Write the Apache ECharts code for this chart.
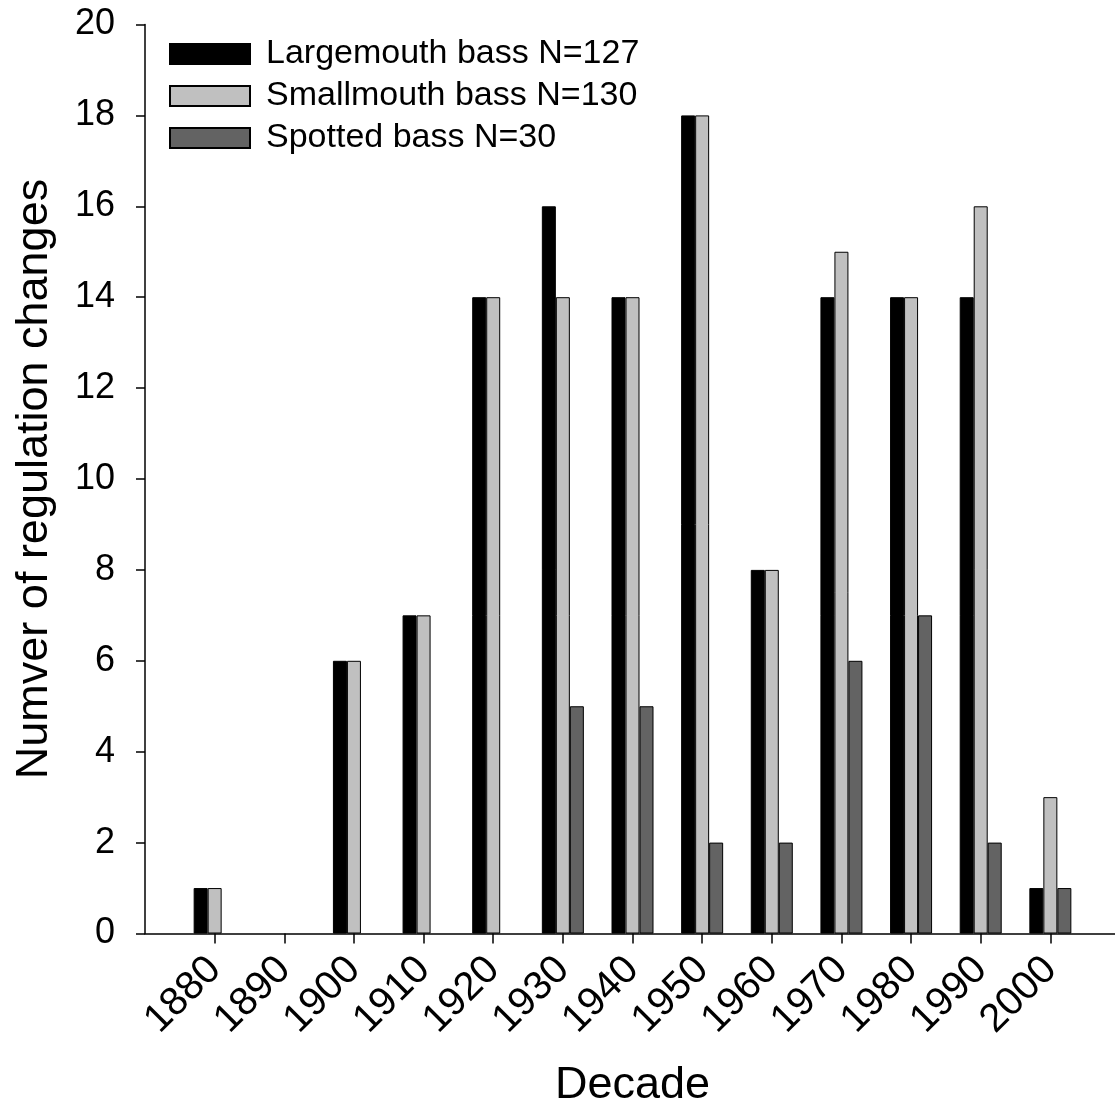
<!DOCTYPE html>
<html>
<head>
<meta charset="utf-8">
<script src="https://cdn.jsdelivr.net/npm/echarts@6/dist/echarts.min.js"></script>
<style>
  html, body { margin: 0; padding: 0; background: #fff; }
  #chart { width: 1115px; height: 1108px; }
</style>
</head>
<body>
<div id="chart"></div>
<script>
// decades on the x axis
const decades = ['1880', '1890', '1900', '1910', '1920', '1930', '1940', '1950', '1960', '1970', '1980', '1990', '2000'];
// number of regulation changes per decade
const largemouth = [1, 0, 6, 7, 14, 16, 14, 18, 8, 14, 14, 14, 1];
const smallmouth = [1, 0, 6, 7, 14, 14, 14, 18, 8, 15, 14, 16, 3];
const spotted = [0, 0, 0, 0, 0, 5, 5, 2, 2, 6, 7, 2, 1];
const seriesNames = ['Largemouth bass N=127', 'Smallmouth bass N=130', 'Spotted bass N=30'];
const colors = ['#000000', '#c0c0c0', '#636363'];
const yTicks = [0, 2, 4, 6, 8, 10, 12, 14, 16, 18, 20];

// the axis runs half a decade past the first and last group, pad with empty slots
const cats = [''].concat(decades, ['']);
function pad(arr) {
  return [null].concat(arr.map(v => (v === 0 ? null : v)), [null]);
}

const font = 'Liberation Sans, Arial, sans-serif';
const chart = echarts.init(document.getElementById('chart'), null, { renderer: 'canvas' });

const values = [largemouth, smallmouth, spotted];
const series = values.map((v, i) => ({
  name: seriesNames[i],
  type: 'bar',
  data: pad(v),
  barWidth: 14,
  barGap: '0%',
  itemStyle: { color: colors[i], borderColor: '#000', borderWidth: 1 },
  emphasis: { disabled: true }
}));

chart.setOption({
  animation: false,
  backgroundColor: '#fff',
  textStyle: { fontFamily: font },
  grid: { left: 145, top: 24.5, width: 975, height: 909, containLabel: false, outerBoundsMode: 'none' },
  legend: {
    orient: 'vertical',
    left: 164,
    top: 32,
    icon: 'rect',
    itemWidth: 80,
    itemHeight: 20,
    itemGap: 8,
    data: seriesNames,
    textStyle: { fontSize: 34, color: '#000', fontFamily: font, padding: [0, 0, 0, 11] }
  },
  xAxis: {
    type: 'category',
    data: cats,
    boundaryGap: false,
    name: 'Decade',
    nameLocation: 'middle',
    nameGap: 130,
    nameTextStyle: { fontSize: 45, color: '#000', fontFamily: font },
    axisLine: { lineStyle: { color: '#000', width: 1.5 } },
    axisTick: {
      length: 10,
      interval: (idx, val) => val !== '',
      lineStyle: { color: '#000', width: 1.5 }
    },
    axisLabel: { interval: 0, rotate: 45, margin: 30, fontSize: 40, color: '#000', fontFamily: font },
    splitLine: { show: false }
  },
  yAxis: {
    type: 'value',
    min: yTicks[0],
    max: yTicks[yTicks.length - 1],
    interval: 2,
    name: 'Numver of regulation changes',
    nameLocation: 'middle',
    nameGap: 88,
    nameTextStyle: { fontSize: 45, color: '#000', fontFamily: font },
    axisLine: { show: true, lineStyle: { color: '#000', width: 1.5 } },
    axisTick: { show: true, length: 9, lineStyle: { color: '#000', width: 1.5 } },
    axisLabel: { margin: 30, fontSize: 36, color: '#000', fontFamily: font },
    splitLine: { show: false }
  },
  series: series
});
</script>
</body>
</html>
